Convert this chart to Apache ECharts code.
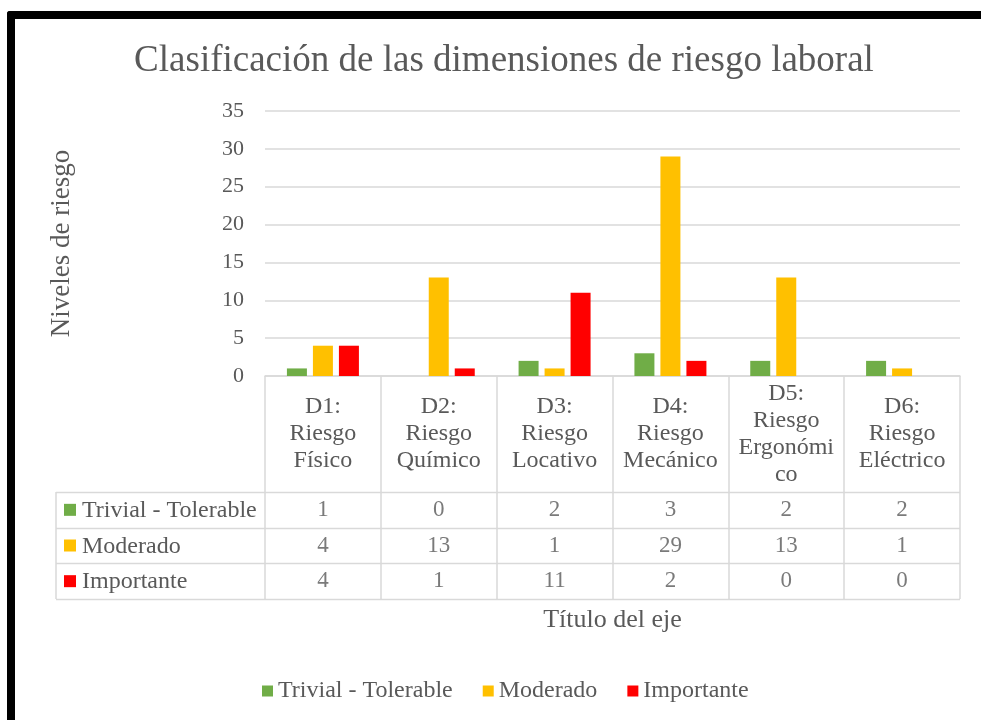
<!DOCTYPE html>
<html>
<head>
<meta charset="utf-8">
<script src="https://cdn.jsdelivr.net/npm/echarts@6/dist/echarts.min.js"></script>
<style>
  html, body { margin:0; padding:0; background:#fff; }
  #chart { width:981px; height:720px; position:relative; }
  #frame { position:absolute; left:7px; top:11px; width:1000px; height:740px;
           border-left:8px solid #000; border-top:8px solid #000; border-top-left-radius:3px; pointer-events:none; }
</style>
</head>
<body>
<div id="chart"></div>
<div id="frame"></div>
<script>
  // datos
  var categories = ['D1:\nRiesgo\nFísico', 'D2:\nRiesgo\nQuímico', 'D3:\nRiesgo\nLocativo',
                    'D4:\nRiesgo\nMecánico', 'D5:\nRiesgo\nErgonómi\nco', 'D6:\nRiesgo\nEléctrico'];
  var seriesNames = ['Trivial - Tolerable', 'Moderado', 'Importante'];
  var trivial = [1, 0, 2, 3, 2, 2];
  var moderado = [4, 13, 1, 29, 13, 1];
  var importante = [4, 1, 11, 2, 0, 0];
  var colors = ['#70AD47', '#FFC000', '#FF0000'];
  var yTicks = { min: 0, max: 35, interval: 5 };

  var rows = [trivial, moderado, importante];
  var font = 'Liberation Serif';
  var txt = '#595959';
  var lineC = '#d9d9d9';

  var gLeft = 265, gRight = 21, gTop = 111, gBottom = 376;
  var rowTop = 492, rowH = 35.67, tableLeft = 56, tableRight = 960;

  var grids = [{ left: gLeft, right: gRight, top: gTop, height: gBottom - gTop }];
  var xAxes = [{
    type: 'category', data: categories, gridIndex: 0,
    name: 'Título del eje', nameLocation: 'middle', nameGap: 231,
    nameTextStyle: { fontFamily: font, fontSize: 26, color: txt },
    axisLine: { lineStyle: { color: lineC, width: 1.5 } },
    axisTick: { show: true, interval: 0, length: 599 - gBottom, lineStyle: { color: lineC, width: 1.5 } },
    axisLabel: { interval: 0, margin: 58, verticalAlign: 'middle', lineHeight: 27,
                 fontFamily: font, fontSize: 24, color: txt }
  }];
  var yAxes = [{
    type: 'value', gridIndex: 0, min: yTicks.min, max: yTicks.max, interval: yTicks.interval,
    name: 'Niveles de riesgo', nameLocation: 'middle', nameGap: 190,
    nameTextStyle: { fontFamily: font, fontSize: 27, color: txt },
    axisLabel: { margin: 21, fontFamily: font, fontSize: 22, color: txt },
    splitLine: { lineStyle: { color: lineC, width: 1.5 } }
  }];
  var series = seriesNames.map(function (n, i) {
    return { name: n, type: 'bar', xAxisIndex: 0, yAxisIndex: 0, data: rows[i],
             barWidth: 20, barGap: '30%', itemStyle: { color: colors[i] } };
  });

  // filas de la tabla de datos
  rows.forEach(function (r, i) {
    grids.push({ left: gLeft, right: gRight, top: rowTop + rowH * i, height: rowH });
    xAxes.push({ type: 'category', data: categories, gridIndex: i + 1, show: false });
    yAxes.push({ type: 'value', gridIndex: i + 1, min: 0, max: 1, show: false });
    series.push({
      name: 'tabla' + i, type: 'scatter', xAxisIndex: i + 1, yAxisIndex: i + 1,
      symbolSize: 1, itemStyle: { color: 'rgba(0,0,0,0)' }, silent: true,
      data: r.map(function (v, j) { return [j, 0.5, v]; }),
      label: { show: true, position: 'inside', formatter: function (p) { return p.value[2]; },
               fontFamily: font, fontSize: 23, color: txt }
    });
  });

  var graphics = [];
  for (var k = 0; k <= rows.length; k++) {
    var y = Math.round(rowTop + rowH * k) + 0.5;
    graphics.push({ type: 'line', shape: { x1: tableLeft, y1: y, x2: tableRight, y2: y },
                    style: { stroke: lineC, lineWidth: 1.5 } });
  }
  graphics.push({ type: 'line', shape: { x1: tableLeft, y1: rowTop, x2: tableLeft, y2: 599 },
                  style: { stroke: lineC, lineWidth: 1.5 } });
  seriesNames.forEach(function (n, i) {
    var cy = rowTop + rowH * i + rowH / 2;
    graphics.push({ type: 'rect', shape: { x: 64, y: cy - 6, width: 12, height: 12 },
                    style: { fill: colors[i] } });
    graphics.push({ type: 'text', x: 82, y: cy + 1,
                    style: { text: n, font: '24px "Liberation Serif"', fill: txt, verticalAlign: 'middle' } });
  });

  var chart = echarts.init(document.getElementById('chart'));
  chart.setOption({
    animation: false,
    title: { text: 'Clasificación de las dimensiones de riesgo laboral', left: 499, top: 38, textAlign: 'center',
             textStyle: { fontFamily: font, fontSize: 37, fontWeight: 'normal', color: txt } },
    legend: { data: seriesNames, left: 257, top: 674, icon: 'rect', itemWidth: 11, itemHeight: 11, itemGap: 30,
              textStyle: { fontFamily: font, fontSize: 24, color: txt } },
    grid: grids,
    xAxis: xAxes,
    yAxis: yAxes,
    series: series,
    graphic: graphics
  });
</script>
</body>
</html>
